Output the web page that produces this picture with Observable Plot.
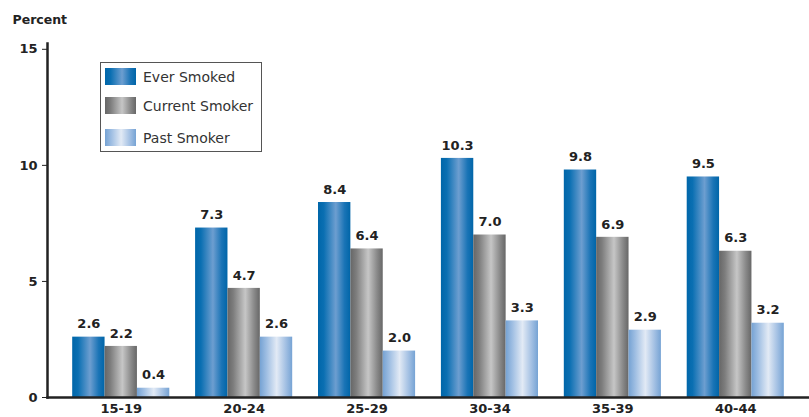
<!DOCTYPE html>
<html>
<head>
<meta charset="utf-8">
<script src="https://cdn.jsdelivr.net/npm/d3@7"></script>
<script src="https://cdn.jsdelivr.net/npm/@observablehq/plot@0.6"></script>
<style>
  html, body { margin: 0; padding: 0; background: #fff; }
  #wrap { position: relative; width: 809px; height: 417px; font-family: "DejaVu Sans", Verdana, sans-serif; }
  #legend { position: absolute; left: 100px; top: 62px; width: 160px; height: 88px; border: 1.5px solid #555; background: #fff; }
  .item { position: absolute; left: 4px; height: 17px; display: flex; align-items: center; }
  .sw { width: 31px; height: 17px; margin-right: 7px; }
  .lab { font-size: 14px; color: #333; white-space: nowrap; }
</style>
</head>
<body>
<div id="wrap"></div>
<script>
const ages = ["15-19", "20-24", "25-29", "30-34", "35-39", "40-44"];
const series = ["Ever Smoked", "Current Smoker", "Past Smoker"];
const everSmoked = [2.6, 7.3, 8.4, 10.3, 9.8, 9.5];
const currentSmoker = [2.2, 4.7, 6.4, 7.0, 6.9, 6.3];
const pastSmoker = [0.4, 2.6, 2.0, 3.3, 2.9, 3.2];
const yTicks = [0, 5, 10, 15];

const values = [everSmoked, currentSmoker, pastSmoker];
const rows = ages.flatMap((age, i) => series.map((s, j) => ({i, j, age, series: s, value: values[j][i]})));

// group layout: each group occupies 79% of its slot, split evenly among the series
const groupWidth = 0.79;
const bw = groupWidth / series.length;
const barX1 = d => d.i + (d.j - series.length / 2) * bw;
const barX2 = d => d.i + (d.j + 1 - series.length / 2) * bw;
const barXMid = d => d.i + (d.j + 0.5 - series.length / 2) * bw;

const gradients = [
  {id: "gEver", stops: [["0%", "#0066a9"], ["18%", "#0a6fb2"], ["55%", "#6d9ed0"], ["82%", "#1a74b6"], ["100%", "#0065a8"]]},
  {id: "gCur", stops: [["0%", "#666666"], ["18%", "#7d7d7d"], ["55%", "#c6c6c6"], ["82%", "#8a8a8a"], ["100%", "#676767"]]},
  {id: "gPast", stops: [["0%", "#75a2d3"], ["20%", "#9dbde2"], ["52%", "#e2eaf5"], ["80%", "#a3c0e3"], ["100%", "#76a3d4"]]}
];
const cssGrad = g => "linear-gradient(to right, " + g.stops.map(s => s[1] + " " + s[0]).join(", ") + ")";

const chart = Plot.plot({
  width: 809,
  height: 417,
  marginLeft: 47,
  marginRight: 0,
  marginTop: 43,
  marginBottom: 20,
  style: {fontFamily: "DejaVu Sans, Verdana, sans-serif", color: "#222", background: "#fff"},
  x: {domain: [-0.6, ages.length - 0.4], label: null},
  y: {domain: [0, 15.25], label: null},
  color: {domain: series, range: gradients.map(g => `url(#${g.id})`)},
  marks: [
    Plot.rectY(rows, {x1: barX1, x2: barX2, y: "value", fill: "series"}),
    Plot.text(rows, {x: barXMid, y: "value", text: d => d.value.toFixed(1), dy: -13, fontWeight: "bold", fontSize: 13, fill: "#222"}),
    Plot.frame({anchor: "bottom", stroke: "#222", strokeWidth: 2.5}),
    Plot.frame({anchor: "left", stroke: "#222", strokeWidth: 2.5}),
    Plot.axisY({ticks: yTicks, tickSize: 5, tickPadding: 5, fontWeight: "bold", fontSize: 13, label: null, stroke: "#222"}),
    Plot.axisX({ticks: ages.map((_, i) => i), tickFormat: i => ages[i], tickSize: 0, tickPadding: 6, fontWeight: "bold", fontSize: 13, label: null}),
    Plot.text(["Percent"], {frameAnchor: "top-left", dx: -35, dy: -24, lineAnchor: "middle", textAnchor: "start", fontWeight: "bold", fontSize: 12.5, fill: "#222"})
  ]
});

const svgNS = "http://www.w3.org/2000/svg";
const defs = document.createElementNS(svgNS, "defs");
for (const g of gradients) {
  const lg = document.createElementNS(svgNS, "linearGradient");
  lg.setAttribute("id", g.id);
  lg.setAttribute("x1", "0"); lg.setAttribute("x2", "1");
  lg.setAttribute("y1", "0"); lg.setAttribute("y2", "0");
  for (const [off, col] of g.stops) {
    const st = document.createElementNS(svgNS, "stop");
    st.setAttribute("offset", off);
    st.setAttribute("stop-color", col);
    lg.appendChild(st);
  }
  defs.appendChild(lg);
}
chart.insertBefore(defs, chart.firstChild);

const wrap = document.getElementById("wrap");
wrap.appendChild(chart);

const legend = document.createElement("div");
legend.id = "legend";
const tops = [5, 34, 66];
series.forEach((s, i) => {
  const item = document.createElement("div");
  item.className = "item";
  item.style.top = tops[i] + "px";
  const sw = document.createElement("div");
  sw.className = "sw";
  sw.style.background = cssGrad(gradients[i]);
  const lab = document.createElement("span");
  lab.className = "lab";
  lab.textContent = s;
  item.appendChild(sw);
  item.appendChild(lab);
  legend.appendChild(item);
});
wrap.appendChild(legend);
</script>
</body>
</html>
